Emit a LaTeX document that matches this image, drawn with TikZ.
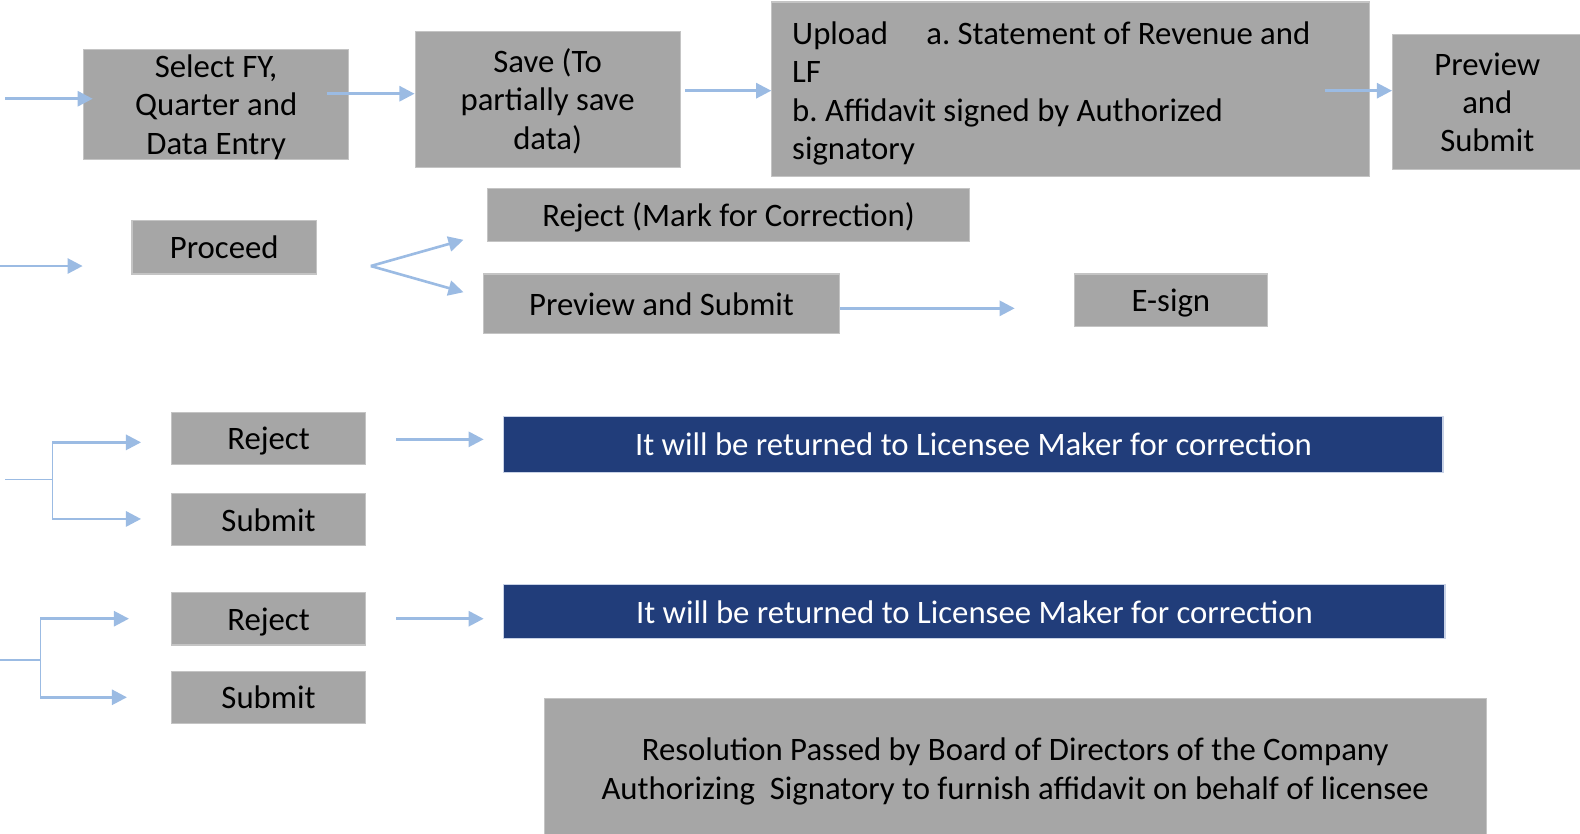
\documentclass[tikz,border=0pt]{standalone}
\usepackage{fontspec}
\setmainfont{Carlito}
\usetikzlibrary{arrows.meta}
\frenchspacing
\definecolor{boxgray}{RGB}{166,166,166}
\definecolor{boxline}{RGB}{196,196,196}
\definecolor{navy}{RGB}{33,61,122}
\definecolor{navyline}{RGB}{200,210,230}
\definecolor{arrowblue}{RGB}{155,187,227}
\newcommand{\boxfont}{\fontsize{32.5}{38}\selectfont}
% fixed line strut: 28pt above and 5pt below the baseline
\newcommand{\ls}{\rule[-5pt]{0pt}{33pt}}
\tikzset{
  graybox/.style={draw=boxline, fill=boxgray, line width=1.2pt, inner sep=0pt,
    align=center, text=black, font=\boxfont},
  bluebox/.style={draw=navyline, fill=navy, line width=1.2pt, inner sep=0pt,
    align=center, text=white, font=\boxfont},
  flow/.style={draw=arrowblue, line width=2.6pt, -{Triangle[length=15pt,width=15pt]}},
  branch/.style={draw=arrowblue, line width=1.6pt},
}
\begin{document}
\begin{tikzpicture}[x=1pt,y=-1pt]
\useasboundingbox (0,0) rectangle (1568,827);

% --- first row: data entry, save, upload, preview
\node[graybox, minimum width=263pt, minimum height=109pt] (entry) at (214.5,103.5)
  {\ls Select FY,\\Quarter and\\\ls Data Entry};
\node[graybox, minimum width=263pt, minimum height=135pt] (save) at (543.5,98.5)
  {\ls Save (To\\partially save\\\ls data)};
\node[graybox, minimum width=593pt, minimum height=173pt] (upload) at (1062.5,88.5) {};
\node[anchor=west, align=left, inner sep=0pt, font=\boxfont] (uploadtext) at (786,90)
  {\ls Upload\hspace{38pt}a. Statement of Revenue and\\LF\\b. Affidavit signed by Authorized\\\ls signatory};
\node[graybox, minimum width=188pt, minimum height=134pt] (preview) at (1476,101)
  {\ls Preview\\and\\\ls Submit};

\coordinate (in1) at (5,98);
\coordinate (s1) at (325,93);
\coordinate (s2) at (680,90);
\coordinate (s3) at (1315,90);
\draw[flow] (in1) -- (92,98);
\draw[flow] (s1) -- (save.west |- s1);
\draw[flow] (s2) -- (upload.west |- s2);
\draw[flow] (s3) -- (preview.west |- s3);

% --- second row: proceed, reject or preview, e-sign
\node[graybox, minimum width=183pt, minimum height=53pt] (proceed) at (222.5,245.5) {\ls Proceed};
\node[graybox, minimum width=478pt, minimum height=53pt] (markcorr) at (723,213.5)
  {\ls Reject (Mark for Correction)};
\node[graybox, minimum width=353pt, minimum height=59pt] (prevsub) at (656.5,301.5)
  {\ls Preview and Submit};
\node[graybox, minimum width=192pt, minimum height=52pt] (esign) at (1162,298) {\ls E-sign};

\coordinate (in2) at (0,264);
\coordinate (in2end) at (82,264);
\coordinate (fork) at (368,264);
\coordinate (forkup) at (460,238);
\coordinate (forkdown) at (460,290);
\coordinate (esignin) at (1007,306);
\draw[flow] (in2) -- (in2end);
\draw[flow] (fork) -- (forkup);
\draw[flow] (fork) -- (forkdown);
\draw[flow] (prevsub.east |- esignin) -- (esignin);

% --- third row: reject or submit
\node[graybox, minimum width=193pt, minimum height=52pt] (rej1) at (266.5,435) {\ls Reject};
\node[graybox, minimum width=193pt, minimum height=51pt] (sub1) at (266.5,515.5) {\ls Submit};
\node[bluebox, minimum width=932pt, minimum height=56pt] (ret1) at (966,441)
  {\ls It will be returned to Licensee Maker for correction};

\coordinate (in3) at (5,476);
\coordinate (b3) at (52,476);
\coordinate (b3top) at (52,439);
\coordinate (b3bot) at (52,515);
\coordinate (r1a) at (393,436);
\coordinate (r1b) at (480,436);
\draw[branch] (in3) -- (b3);
\draw[branch] (b3top) -- (b3bot);
\draw[flow] (b3top) -- (140,439);
\draw[flow] (b3bot) -- (140,515);
\draw[flow] (r1a) -- (r1b);

% --- fourth row: reject or submit
\node[graybox, minimum width=193pt, minimum height=52pt] (rej2) at (266.5,614) {\ls Reject};
\node[graybox, minimum width=193pt, minimum height=52pt] (sub2) at (266.5,692) {\ls Submit};
\node[bluebox, minimum width=934pt, minimum height=54pt] (ret2) at (967,607)
  {\ls It will be returned to Licensee Maker for correction};

\coordinate (in4) at (0,655);
\coordinate (b4) at (40,655);
\coordinate (b4top) at (40,614);
\coordinate (b4bot) at (40,692);
\coordinate (r2a) at (393,614);
\coordinate (r2b) at (480,614);
\draw[branch] (in4) -- (b4);
\draw[branch] (b4top) -- (b4bot);
\draw[flow] (b4top) -- (128,614);
\draw[flow] (b4bot) -- (126,692);
\draw[flow] (r2a) -- (r2b);

% --- board resolution note
\node[graybox, minimum width=935pt, minimum height=140pt] (resolution) at (1007.5,763)
  {\ls Resolution Passed by Board of Directors of the Company\\\ls Authorizing\ \ Signatory to furnish affidavit on behalf of licensee};
\end{tikzpicture}
\end{document}
